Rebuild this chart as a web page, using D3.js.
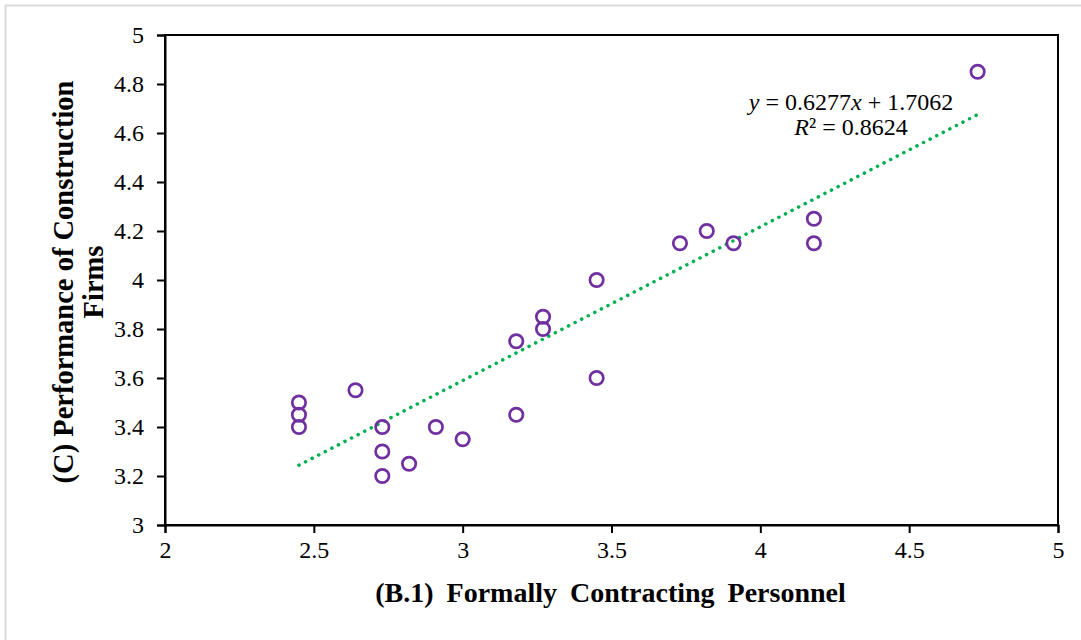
<!DOCTYPE html>
<html>
<head>
<meta charset="utf-8">
<script src="https://cdn.jsdelivr.net/npm/d3@7"></script>
<style>
  body { margin: 0; background: #fff; }
  svg text { font-family: "Liberation Serif", "Times New Roman", serif; fill: #000; }
</style>
</head>
<body>
<svg id="chart" width="1081" height="640"></svg>
<script>
// data
const xVals = [2.45, 2.45, 2.45, 2.64, 2.73, 2.73, 2.73, 2.82, 2.91, 3.00, 3.18, 3.18, 3.27, 3.27, 3.45, 3.45, 3.73, 3.82, 3.91, 4.18, 4.18, 4.73]
const yVals = [3.50, 3.45, 3.40, 3.55, 3.40, 3.30, 3.20, 3.25, 3.40, 3.35, 3.45, 3.75, 3.85, 3.80, 4.00, 3.60, 4.15, 4.20, 4.15, 4.25, 4.15, 4.85]
const xTicks = [2, 2.5, 3, 3.5, 4, 4.5, 5]
const yTicks = [3, 3.2, 3.4, 3.6, 3.8, 4, 4.2, 4.4, 4.6, 4.8, 5]
const slope = 0.6277, intercept = 1.7062, r2 = 0.8624

const svg = d3.select('#chart')
const margin = {top: 35, right: 23, bottom: 115, left: 165}
const width = 1081 - margin.left - margin.right,
      height = 640 - margin.top - margin.bottom

// light outer frame
svg.append('rect')
    .attr('x', 5.5).attr('y', 5.5)
    .attr('width', 1100).attr('height', 700)
    .attr('fill', 'none')
    .attr('stroke', '#d9d9d9')
    .attr('stroke-width', 2)

const g = svg.append('g')
    .attr('transform', 'translate(' + margin.left + ',' + margin.top + ')')

const x = d3.scaleLinear().domain([2, 5]).range([0, width])
const y = d3.scaleLinear().domain([3, 5]).range([height, 0])

const fmt = d => String(d)

// plot box
g.append('rect')
    .attr('width', width).attr('height', height)
    .attr('fill', 'none')
    .attr('stroke', '#000')
    .attr('stroke-width', 2)

const xAxis = g.append('g')
    .attr('transform', 'translate(0,' + height + ')')
    .call(d3.axisBottom(x).tickValues(xTicks).tickFormat(fmt).tickSize(8).tickPadding(8))
const yAxis = g.append('g')
    .call(d3.axisLeft(y).tickValues(yTicks).tickFormat(fmt).tickSize(8).tickPadding(13))

for (const ax of [xAxis, yAxis]) {
    ax.attr('font-size', null).attr('font-family', null)
    ax.select('.domain').attr('stroke', '#000').attr('stroke-width', 2)
    ax.selectAll('.tick line').attr('stroke', '#000').attr('stroke-width', 2)
    ax.selectAll('.tick text')
        .style('font-family', '"Liberation Serif", serif')
        .style('font-size', '24px')
        .attr('fill', '#000')
}

// trendline
const xs = d3.extent(xVals)
g.append('line')
    .attr('x1', x(xs[0])).attr('y1', y(slope * xs[0] + intercept))
    .attr('x2', x(xs[1])).attr('y2', y(slope * xs[1] + intercept))
    .attr('stroke', '#00b050')
    .attr('stroke-width', 3.5)
    .attr('stroke-linecap', 'round')
    .attr('stroke-dasharray', '0.1,7.3')

// points
g.selectAll('circle.pt')
    .data(xVals.map((v, i) => [v, yVals[i]]))
    .enter().append('circle')
    .attr('class', 'pt')
    .attr('cx', d => x(d[0]))
    .attr('cy', d => y(d[1]))
    .attr('r', 6.7)
    .attr('fill', 'none')
    .attr('stroke', '#7030a0')
    .attr('stroke-width', 2.7)

// equation label
const eq = g.append('text')
    .attr('x', 686).attr('y', 75)
    .attr('text-anchor', 'middle')
    .style('font-size', '24px')
eq.append('tspan').style('font-style', 'italic').text('y')
eq.append('tspan').text(' = ' + slope + '')
eq.append('tspan').style('font-style', 'italic').text('x')
eq.append('tspan').text(' + ' + intercept.toFixed(4))

const rt = g.append('text')
    .attr('x', 686).attr('y', 100)
    .attr('text-anchor', 'middle')
    .style('font-size', '24px')
rt.append('tspan').style('font-style', 'italic').text('R')
rt.append('tspan').text('² = ' + r2)

// axis titles
svg.append('text')
    .attr('x', margin.left + width / 2 - 1).attr('y', 602)
    .attr('text-anchor', 'middle')
    .style('font-size', '28px')
    .style('font-weight', 'bold')
    .style('word-spacing', '6px')
    .text('(B.1) Formally Contracting Personnel')

const yt = svg.append('text')
    .attr('transform', 'translate(73,' + (margin.top + height / 2 + 2) + ') rotate(-90)')
    .attr('text-anchor', 'middle')
    .style('font-size', '28.5px')
    .style('font-weight', 'bold')
yt.append('tspan').attr('x', 0).attr('y', 0).text('(C) Performance of Construction')
yt.append('tspan').attr('x', 0).attr('y', 30).text('Firms')
</script>
</body>
</html>
